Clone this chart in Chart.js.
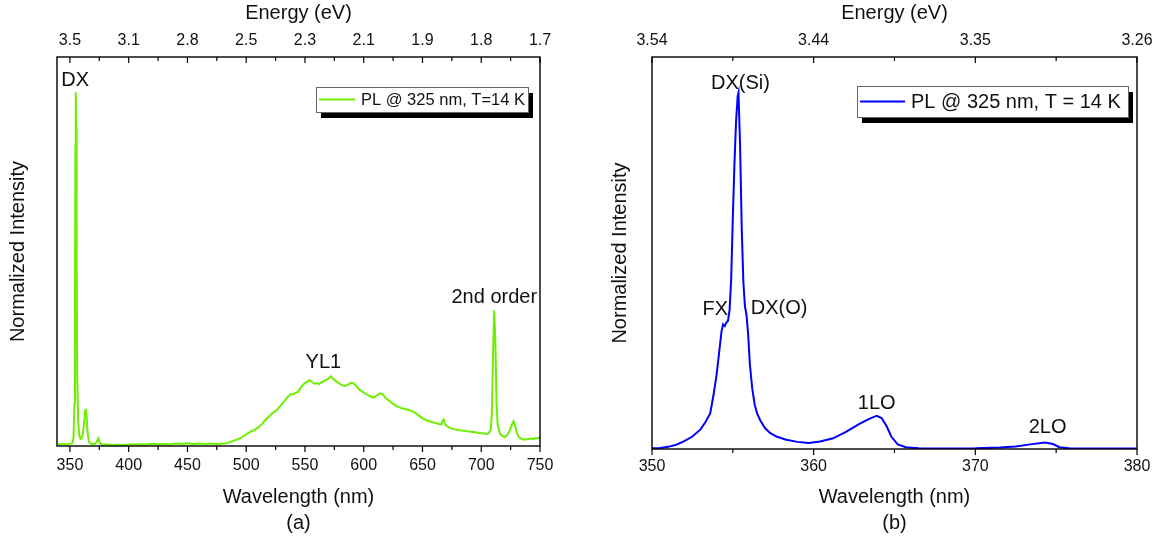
<!DOCTYPE html>
<html>
<head>
<meta charset="utf-8">
<script src="https://cdn.jsdelivr.net/npm/chart.js@4.4.1/dist/chart.umd.min.js"></script>
<style>
  html, body { margin: 0; padding: 0; background: #fff; }
  #wrap { position: relative; width: 1167px; height: 549px; }
  .panel { position: absolute; top: 0; }
  #panelA { left: 0; }
  #panelB { left: 583px; }
</style>
</head>
<body>
<div id="wrap">
  <div class="panel" id="panelA"><canvas id="chartA" width="583" height="549"></canvas></div>
  <div class="panel" id="panelB"><canvas id="chartB" width="584" height="549"></canvas></div>
</div>
<script>
// (a) broad PL spectrum, 325 nm excitation
const waveA = [
  340, 345, 350, 352, 353, 353.8, 354.3, 354.7, 355, 355.3, 355.7, 356.2, 357, 358, 359, 360,
  361, 362, 363, 363.6, 364.3, 365, 366, 367, 369, 371, 372.5, 373.5, 374.3, 375, 376, 378,
  382, 386, 390, 395, 400, 405, 410, 415, 420, 425, 430, 435, 440, 445, 450, 455, 460, 465,
  470, 475, 480, 483, 486, 489, 492, 495, 498, 501, 504, 506, 508, 510, 512, 514, 516, 518,
  520, 522, 524, 526, 528, 530, 532, 534, 536, 538, 540, 542, 544, 546, 548, 550, 552, 554,
  556, 558, 560, 562, 564, 566, 568, 570, 572, 574, 576, 578, 580, 582, 584, 586, 588, 590,
  592, 594, 596, 598, 600, 602, 604, 606, 608, 610, 612, 614, 616, 618, 620, 622, 624, 626,
  628, 630, 632, 634, 636, 638, 640, 642, 644, 646, 648, 650, 652, 654, 656, 658, 660, 662,
  664, 666, 667, 668, 669, 671, 673, 675, 677, 680, 683, 686, 689, 692, 695, 698, 701, 704,
  706, 708, 709, 710, 711, 712, 713, 714, 716, 718, 720, 722, 724, 726, 727.5, 729, 731, 733,
  736, 738, 740, 742, 744, 746, 748, 750
];
const intensityA = [
  0.006, 0.005, 0.006, 0.008, 0.02, 0.12, 0.45, 0.85, 1.0, 0.9, 0.55, 0.2, 0.07, 0.03, 0.02, 0.022,
  0.035, 0.065, 0.1, 0.105, 0.08, 0.04, 0.015, 0.008, 0.006, 0.006, 0.01, 0.018, 0.022, 0.012, 0.006, 0.004,
  0.004, 0.003, 0.004, 0.003, 0.004, 0.004, 0.005, 0.004, 0.006, 0.005, 0.006, 0.005, 0.007, 0.006, 0.008, 0.006, 0.007, 0.006,
  0.007, 0.006, 0.007, 0.008, 0.011, 0.014, 0.018, 0.022, 0.029, 0.035, 0.041, 0.044, 0.047, 0.052, 0.058, 0.064, 0.072, 0.079,
  0.085, 0.092, 0.097, 0.102, 0.109, 0.117, 0.125, 0.133, 0.141, 0.147, 0.146, 0.150, 0.153, 0.163, 0.172, 0.178, 0.182, 0.186,
  0.181, 0.176, 0.178, 0.175, 0.180, 0.183, 0.187, 0.190, 0.197, 0.190, 0.184, 0.180, 0.175, 0.172, 0.170, 0.172, 0.176, 0.179,
  0.175, 0.168, 0.160, 0.156, 0.151, 0.147, 0.143, 0.140, 0.137, 0.140, 0.145, 0.149, 0.147, 0.138, 0.132, 0.127, 0.121, 0.117,
  0.113, 0.110, 0.107, 0.106, 0.104, 0.102, 0.100, 0.097, 0.093, 0.088, 0.083, 0.078, 0.075, 0.072, 0.070, 0.068, 0.066, 0.064,
  0.062, 0.061, 0.072, 0.075, 0.062, 0.056, 0.052, 0.049, 0.047, 0.046, 0.044, 0.043, 0.041, 0.040, 0.039, 0.037, 0.036, 0.034,
  0.035, 0.045, 0.09, 0.25, 0.384, 0.30, 0.12, 0.06, 0.035, 0.028, 0.025, 0.030, 0.042, 0.060, 0.070, 0.055, 0.030, 0.022,
  0.018, 0.019, 0.019, 0.021, 0.020, 0.022, 0.022, 0.024
];
const waveTicksA = [350, 400, 450, 500, 550, 600, 650, 700, 750];
const energyLabelsA = ['3.5', '3.1', '2.8', '2.5', '2.3', '2.1', '1.9', '1.8', '1.7'];

// (b) band-edge region
const waveB = [
  350, 350.5, 351, 351.5, 352, 352.5, 353, 353.3, 353.6, 353.8, 354, 354.15, 354.3, 354.4, 354.5,
  354.6, 354.7, 354.8, 354.9, 355, 355.1, 355.2, 355.3, 355.35, 355.45, 355.55, 355.65, 355.75,
  355.85, 355.95, 356.05, 356.2, 356.35, 356.5, 356.7, 357, 357.3, 357.7, 358.3, 359, 359.7,
  360.4, 361.2, 362, 362.8, 363.5, 363.9, 364.2, 364.5, 364.8, 365.2, 365.7, 366.5, 368, 370,
  371.5, 372.5, 373.4, 374.3, 374.8, 375.2, 375.8, 377, 380
];
const intensityB = [
  0.002, 0.003, 0.006, 0.012, 0.022, 0.035, 0.055, 0.075, 0.10, 0.15, 0.21, 0.27, 0.33, 0.35, 0.345,
  0.355, 0.36, 0.39, 0.48, 0.65, 0.80, 0.92, 0.99, 1.0, 0.85, 0.62, 0.47, 0.40,
  0.375, 0.32, 0.24, 0.17, 0.125, 0.10, 0.08, 0.058, 0.045, 0.035, 0.026, 0.020, 0.017,
  0.021, 0.030, 0.048, 0.070, 0.086, 0.093, 0.087, 0.065, 0.035, 0.013, 0.005, 0.002, 0.0015, 0.002,
  0.004, 0.007, 0.013, 0.018, 0.014, 0.005, 0.002, 0.0015, 0.0015
];
const waveTicksB = [350, 360, 370, 380];
const energyLabelsB = ['3.54', '3.44', '3.35', '3.26'];

Chart.defaults.font.family = "'Liberation Sans', Arial, sans-serif";
Chart.defaults.color = '#111';

// box, inward/outward tick marks, peak labels and a shadowed legend
const framePlugin = {
  id: 'frame',
  afterDatasetsDraw(chart, args, opts) {
    const ctx = chart.ctx;
    const a = chart.chartArea;
    ctx.save();
    ctx.strokeStyle = '#000';
    ctx.lineWidth = 1.4;
    ctx.strokeRect(a.left, a.top, a.right - a.left, a.bottom - a.top);

    const mark = (x, y0, len) => {
      ctx.beginPath();
      ctx.moveTo(x, y0);
      ctx.lineTo(x, y0 + len);
      ctx.stroke();
    };
    const tickRow = (scale, y0) => {
      const vals = scale.ticks.map(t => t.value);
      vals.forEach((v, i) => {
        mark(scale.getPixelForValue(v), y0, 6);
        if (i > 0) mark(scale.getPixelForValue((v + vals[i - 1]) / 2), y0, 4);
      });
    };
    ctx.lineWidth = 1.2;
    tickRow(chart.scales.x, a.bottom);
    tickRow(chart.scales.xTop, a.top);

    // peak labels
    const xs = chart.scales.x, ys = chart.scales.y;
    ctx.fillStyle = '#111';
    ctx.font = "20px 'Liberation Sans', Arial, sans-serif";
    ctx.textAlign = 'center';
    ctx.textBaseline = 'middle';
    opts.notes.forEach(n => {
      ctx.fillText(n.text, xs.getPixelForValue(n.x), ys.getPixelForValue(n.y));
    });

    // legend
    const lg = opts.legend;
    const ds = chart.data.datasets[0];
    ctx.fillStyle = '#000';
    ctx.fillRect(lg.x + 5, lg.y + 6, lg.w, lg.h);
    ctx.fillStyle = '#fff';
    ctx.fillRect(lg.x, lg.y, lg.w, lg.h);
    ctx.strokeStyle = '#666';
    ctx.lineWidth = 1;
    ctx.strokeRect(lg.x + 0.5, lg.y + 0.5, lg.w, lg.h);
    const cy = lg.y + lg.h / 2;
    ctx.strokeStyle = ds.borderColor;
    ctx.lineWidth = 2;
    ctx.beginPath();
    ctx.moveTo(lg.x + 3, cy);
    ctx.lineTo(lg.x + 3 + lg.line, cy);
    ctx.stroke();
    ctx.fillStyle = '#111';
    ctx.font = lg.font;
    ctx.textAlign = 'left';
    ctx.fillText(ds.label, lg.x + lg.line + 9, cy + 1);
    ctx.restore();
  }
};

function makePanel(canvasId, cfg) {
  const fix = (size) => (scale) => {
    if (scale.isHorizontal()) scale.height = size; else scale.width = size;
  };
  const ticksFrom = (arr) => (scale) => { scale.ticks = arr.map(v => ({ value: v })); };
  return new Chart(document.getElementById(canvasId), {
    type: 'line',
    data: {
      datasets: [{
        label: cfg.label,
        data: cfg.wave.map((w, i) => ({ x: w, y: cfg.intensity[i] })),
        borderColor: cfg.color,
        borderWidth: cfg.width,
        pointRadius: 0,
        tension: 0,
        fill: false
      }]
    },
    options: {
      responsive: false,
      animation: false,
      layout: { padding: { left: 0, right: cfg.padRight, top: 0, bottom: 0 } },
      plugins: {
        legend: { display: false },
        tooltip: { enabled: false },
        frame: { notes: cfg.notes, legend: cfg.legend }
      },
      scales: {
        x: {
          type: 'linear', position: 'bottom',
          min: cfg.xMin, max: cfg.xMax,
          afterBuildTicks: ticksFrom(cfg.ticks),
          afterFit: fix(cfg.bottomH),
          grid: { display: false, drawTicks: false },
          border: { display: false },
          ticks: { font: { size: 16 }, padding: cfg.bottomPad, maxRotation: 0, autoSkip: false },
          title: {
            display: true,
            text: ['Wavelength (nm)', cfg.tag],
            font: { size: 20, lineHeight: 1.3 },
            padding: { top: 0, bottom: 13 }
          }
        },
        xTop: {
          type: 'linear', position: 'top',
          min: cfg.xMin, max: cfg.xMax,
          afterBuildTicks: ticksFrom(cfg.ticks),
          afterFit: fix(57),
          grid: { display: false, drawTicks: false },
          border: { display: false },
          ticks: {
            font: { size: 16 }, padding: 7, maxRotation: 0, autoSkip: false,
            callback: (v, i) => cfg.energy[i]
          },
          title: { display: true, text: 'Energy (eV)', font: { size: 20 }, padding: { top: 1, bottom: 0 } }
        },
        y: {
          min: 0, max: 1.1,
          afterFit: fix(cfg.leftW),
          grid: { display: false, drawTicks: false },
          border: { display: false },
          ticks: { display: false },
          title: { display: true, text: 'Normalized Intensity', font: { size: 20 }, padding: { top: cfg.yTitlePad, bottom: 0 } }
        }
      }
    },
    plugins: [framePlugin]
  });
}

makePanel('chartA', {
  label: 'PL @ 325 nm, T=14 K', wave: waveA, intensity: intensityA,
  color: '#6cf000', width: 2,
  xMin: 339, xMax: 750, ticks: waveTicksA, energy: energyLabelsA, tag: '(a)',
  padRight: 43, bottomH: 103, bottomPad: 10, leftW: 57, yTitlePad: 6,
  notes: [
    { text: 'DX', x: 354.4, y: 1.033 },
    { text: 'YL1', x: 565.7, y: 0.237 },
    { text: '2nd order', x: 711.1, y: 0.419 }
  ],
  legend: { x: 316, y: 87, w: 212, h: 25, line: 36, font: "16.5px 'Liberation Sans', Arial, sans-serif" }
});

makePanel('chartB', {
  label: 'PL @ 325 nm, T = 14 K', wave: waveB, intensity: intensityB,
  color: '#0000ff', width: 2,
  xMin: 350, xMax: 380, ticks: waveTicksB, energy: energyLabelsB, tag: '(b)',
  padRight: 30, bottomH: 100, bottomPad: 8, leftW: 69, yTitlePad: 25,
  notes: [
    { text: 'DX(Si)', x: 355.47, y: 1.026 },
    { text: 'FX', x: 353.91, y: 0.391 },
    { text: 'DX(O)', x: 357.86, y: 0.394 },
    { text: '1LO', x: 363.9, y: 0.127 },
    { text: '2LO', x: 374.47, y: 0.060 }
  ],
  legend: { x: 274, y: 86, w: 271, h: 31, line: 45, font: "20px 'Liberation Sans', Arial, sans-serif" }
});
</script>
</body>
</html>
